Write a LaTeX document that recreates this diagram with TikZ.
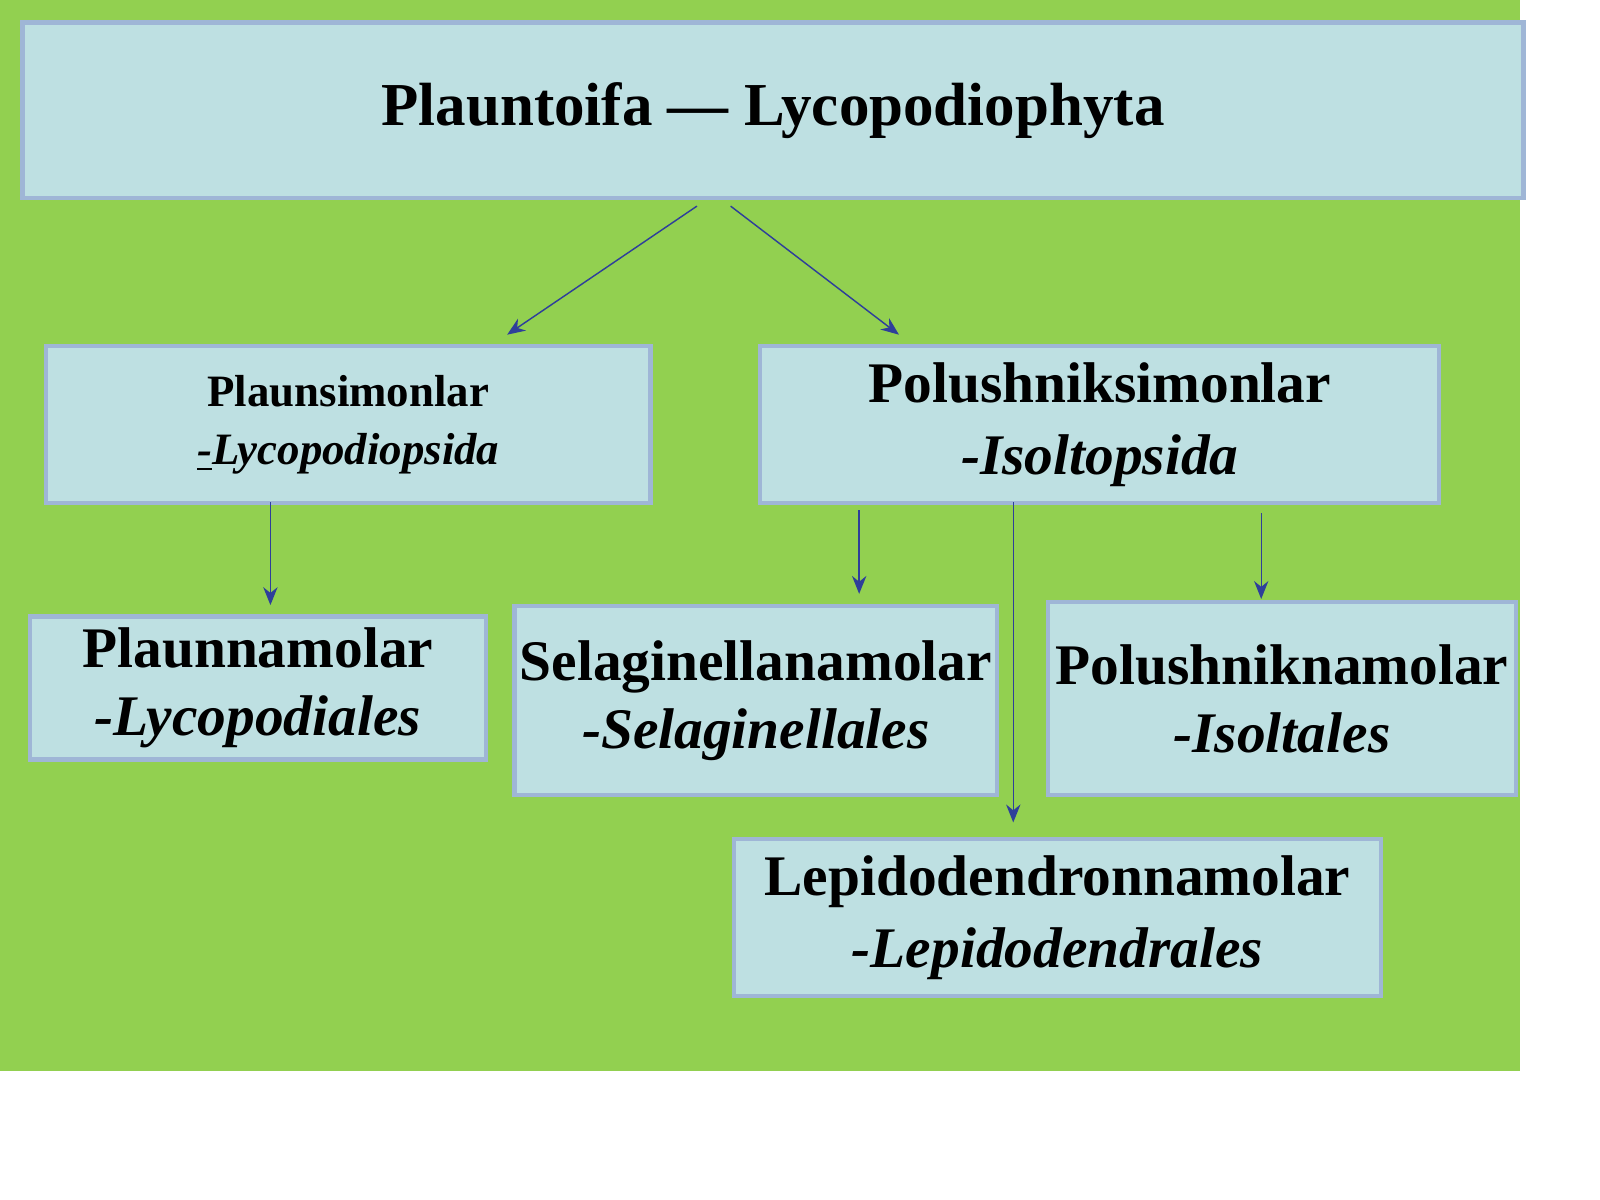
\documentclass[tikz,border=0pt]{standalone}
\usepackage{fontspec}
\setmainfont{Liberation Serif}
\usetikzlibrary{arrows.meta}
\definecolor{leafgreen}{HTML}{92D050}
\definecolor{boxfill}{HTML}{BEE0E2}
\definecolor{boxline}{HTML}{9FB6D6}
\definecolor{arrowblue}{HTML}{2E3F9A}

\begin{document}
\begin{tikzpicture}[x=0.01cm,y=-0.01cm,
    % styles
    taxon/.style={fill=boxfill,draw=boxline,line width=1.2pt,anchor=north west,
      inner sep=0pt,align=center,font=\bfseries},
    link/.style={arrowblue,thin,-{Stealth[length=5pt,width=4pt]}}]

  % page and background
  \useasboundingbox (0,0) rectangle (1568,1176);
  \fill[leafgreen] (0,0) rectangle (1490,1050);

  % boxes
  \node[taxon,minimum width=14.70cm,minimum height=1.72cm,font=\bfseries\fontsize{17}{20}\selectfont]
    (phylum) at (20,20) {Plauntoifa --- Lycopodiophyta};
  \node[taxon,minimum width=5.92cm,minimum height=1.54cm,font=\bfseries\fontsize{12.5}{16}\selectfont]
    (lyco) at (43,337) {Plaunsimonlar\\\textit{\underline{-}Lycopodiopsida}};
  \node[taxon,minimum width=6.65cm,minimum height=1.54cm,font=\bfseries\fontsize{16}{20}\selectfont]
    (isol) at (743,337) {Polushniksimonlar\\\textit{-Isoltopsida}};
  \node[taxon,minimum width=4.47cm,minimum height=1.40cm,font=\bfseries\fontsize{16}{19}\selectfont]
    (plaun) at (27,602) {Plaunnamolar\\\textit{-Lycopodiales}};
  \node[taxon,minimum width=4.73cm,minimum height=1.85cm,font=\bfseries\fontsize{16}{19}\selectfont]
    (selag) at (502,592) {Selaginellanamolar\\\textit{-Selaginellales}};
  \node[taxon,minimum width=4.58cm,minimum height=1.89cm,font=\bfseries\fontsize{16}{19}\selectfont]
    (polush) at (1025,588) {Polushniknamolar\\\textit{-Isoltales}};
  \node[taxon,minimum width=6.34cm,minimum height=1.54cm,font=\bfseries\fontsize{16}{20}\selectfont]
    (lepido) at (717,820) {Lepidodendronnamolar\\\textit{-Lepidodendrales}};

  % arrow ends
  \coordinate (p1) at (683,202);  \coordinate (l1) at (497,328);
  \coordinate (p2) at (716,202);  \coordinate (i1) at (881,328);
  \coordinate (l2) at (265,492);  \coordinate (pl) at (265,593);
  \coordinate (i2) at (842,500);  \coordinate (se) at (842,582);
  \coordinate (i3) at (993,492);  \coordinate (le) at (993,806);
  \coordinate (i4) at (1236,503); \coordinate (po) at (1236,587);

  % arrows
  \draw[link] (p1) -- (l1);
  \draw[link] (p2) -- (i1);
  \draw[link] (l2) -- (pl);
  \draw[link] (i2) -- (se);
  \draw[link] (i3) -- (le);
  \draw[link] (i4) -- (po);
\end{tikzpicture}
\end{document}
